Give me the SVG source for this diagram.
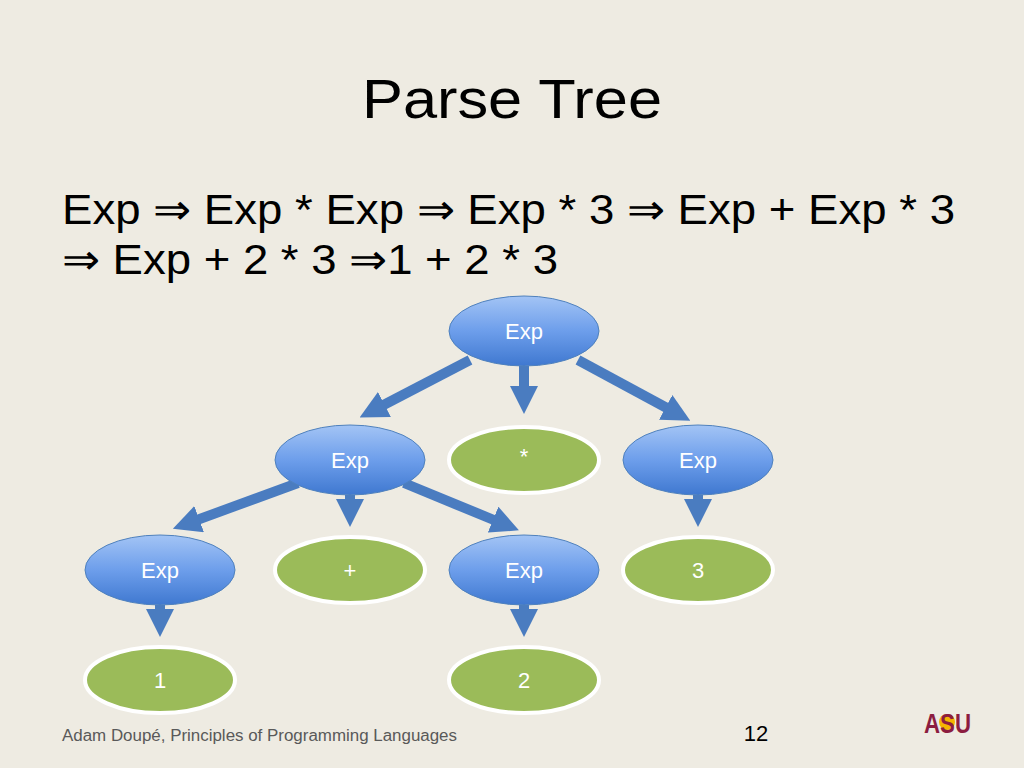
<svg xmlns="http://www.w3.org/2000/svg" width="1024" height="768" viewBox="0 0 1024 768">
<defs>
<linearGradient id="bg" x1="0" y1="0" x2="0" y2="1"><stop offset="0" stop-color="#a3c4f5"/><stop offset="0.5" stop-color="#6d9eeb"/><stop offset="1" stop-color="#3f78d0"/></linearGradient>
<marker id="ah" viewBox="0 0 10 10" refX="5" refY="5" markerWidth="2.8" markerHeight="2.8" orient="auto" markerUnits="strokeWidth"><path d="M0,0 L10,5 L0,10 z" fill="#4a7cc0"/></marker>
</defs>
<style>
.t{font-family:"Liberation Sans",Arial,sans-serif}
.blue{fill:url(#bg);stroke:#4f81bd;stroke-width:1}
.green{fill:#9bbb59;stroke:#fff;stroke-width:4}
.lbl{font-family:"Liberation Sans",Arial,sans-serif;font-size:22px;fill:#fff;text-anchor:middle}
.c line{stroke:#4a7cc0;stroke-width:10;marker-end:url(#ah)}
</style>
<rect width="1024" height="768" fill="#eeebe2"/>
<text class="t" x="362" y="118" font-size="56" fill="#000" textLength="300" lengthAdjust="spacingAndGlyphs">Parse Tree</text>
<text class="t" x="62" y="224" font-size="42" fill="#000" textLength="893" lengthAdjust="spacingAndGlyphs">Exp ⇒ Exp * Exp ⇒ Exp * 3 ⇒ Exp + Exp * 3</text>
<text class="t" x="62" y="274" font-size="42" fill="#000" textLength="496" lengthAdjust="spacingAndGlyphs">⇒ Exp + 2 * 3 ⇒1 + 2 * 3</text>
<g class="c">
<line x1="470" y1="360" x2="372" y2="411"/>
<line x1="524" y1="366" x2="524" y2="400"/>
<line x1="578" y1="360" x2="678" y2="414"/>
<line x1="298" y1="483" x2="186" y2="524"/>
<line x1="350" y1="495" x2="350" y2="513"/>
<line x1="404" y1="483" x2="506" y2="525"/>
<line x1="698" y1="495" x2="698" y2="513"/>
<line x1="160" y1="605" x2="160" y2="623"/>
<line x1="524" y1="605" x2="524" y2="623"/>
</g>
<g id="n1"><ellipse class="blue" cx="524" cy="331" rx="75" ry="35"/><text class="lbl" x="524" y="339">Exp</text></g>
<g id="n2"><ellipse class="blue" cx="350" cy="460" rx="75" ry="35"/><text class="lbl" x="350" y="468">Exp</text></g>
<g id="n3"><ellipse class="green" cx="524" cy="460" rx="75" ry="33"/><text class="lbl" x="524" y="464" font-size="18">*</text></g>
<g id="n4"><ellipse class="blue" cx="698" cy="460" rx="75" ry="35"/><text class="lbl" x="698" y="468">Exp</text></g>
<g id="n5"><ellipse class="blue" cx="160" cy="570" rx="75" ry="35"/><text class="lbl" x="160" y="578">Exp</text></g>
<g id="n6"><ellipse class="green" cx="350" cy="570" rx="75" ry="33"/><text class="lbl" x="350" y="578">+</text></g>
<g id="n7"><ellipse class="blue" cx="524" cy="570" rx="75" ry="35"/><text class="lbl" x="524" y="578">Exp</text></g>
<g id="n8"><ellipse class="green" cx="698" cy="570" rx="75" ry="33"/><text class="lbl" x="698" y="578">3</text></g>
<g id="n9"><ellipse class="green" cx="160" cy="680" rx="75" ry="33"/><text class="lbl" x="160" y="688">1</text></g>
<g id="n10"><ellipse class="green" cx="524" cy="680" rx="75" ry="33"/><text class="lbl" x="524" y="688">2</text></g>
<text class="t" x="62" y="741" font-size="16" fill="#595959" textLength="395" lengthAdjust="spacingAndGlyphs">Adam Doupé, Principles of Programming Languages</text>
<text class="t" x="756" y="741" font-size="22" text-anchor="middle" fill="#000">12</text>
<circle cx="947" cy="722" r="8" fill="#f5b400"/>
<text class="t" x="924" y="733" font-size="27" font-weight="bold" fill="#8c1d40" textLength="47" lengthAdjust="spacingAndGlyphs">ASU</text>
</svg>
